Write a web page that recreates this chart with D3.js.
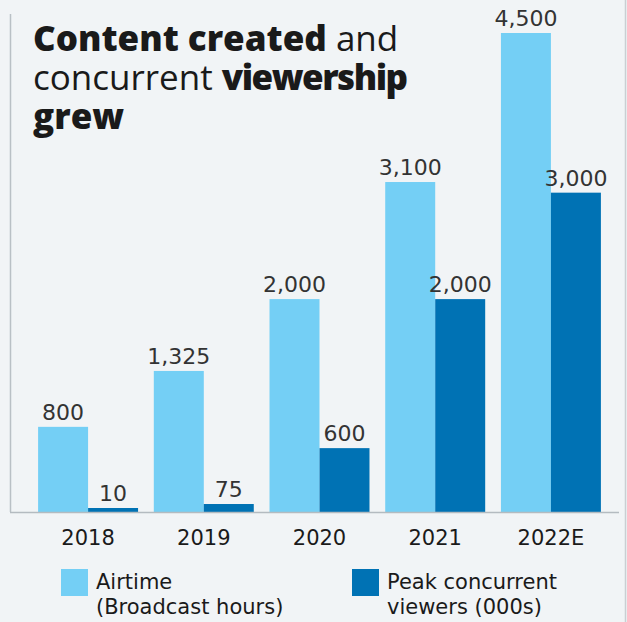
<!DOCTYPE html>
<html>
<head>
<meta charset="utf-8">
<script src="https://cdn.jsdelivr.net/npm/d3@7"></script>
<style>
  body { margin: 0; background: #f1f4f6; }
  svg { display: block; }
</style>
</head>
<body>
<div id="chart"></div>
<script>
var years = ["2018", "2019", "2020", "2021", "2022E"];
var airtime = [800, 1325, 2000, 3100, 4500];
var peakViewers = [10, 75, 600, 2000, 3000];
var seriesNames = ["Airtime (Broadcast hours)", "Peak concurrent viewers (000s)"];

var width = 627,
    height = 622,
    baseY = 512;

var colors = ["#74cff5", "#0072b4"];

var svg = d3.select("#chart").append("svg")
  .attr("width", width)
  .attr("height", height);

svg.append("rect")
  .attr("width", width)
  .attr("height", height)
  .attr("fill", "#f1f4f6");

// frame lines
svg.append("line")
  .attr("x1", 10.5).attr("x2", 10.5)
  .attr("y1", 14).attr("y2", baseY)
  .attr("stroke", "#b9c0c5").attr("stroke-width", 1.5);
svg.append("line")
  .attr("x1", 625.5).attr("x2", 625.5)
  .attr("y1", 0).attr("y2", height)
  .attr("stroke", "#c9cfd3").attr("stroke-width", 1.5);

var x = d3.scaleBand()
  .domain(years)
  .range([30, 609])
  .paddingInner(0.136)
  .paddingOuter(0.07);

var xSub = d3.scaleBand()
  .domain([0, 1])
  .range([0, x.bandwidth()]);

var y = d3.scaleLinear()
  .domain([0, 4500])
  .range([baseY, 33]);

var rows = years.map(function(yr, i) {
  return { year: yr, values: [airtime[i], peakViewers[i]] };
});

var groups = svg.selectAll("g.year")
  .data(rows)
  .enter().append("g")
  .attr("class", "year")
  .attr("transform", function(d) { return "translate(" + x(d.year) + ",0)"; });

var bars = groups.selectAll("g.bar")
  .data(function(d) { return d.values.map(function(v, k) { return { k: k, v: v }; }); })
  .enter().append("g")
  .attr("class", "bar");

bars.append("rect")
  .attr("x", function(d) { return xSub(d.k); })
  .attr("width", xSub.bandwidth())
  .attr("y", function(d) { return Math.min(y(d.v), baseY - 4); })
  .attr("height", function(d) { return Math.max(baseY - y(d.v), 4); })
  .attr("fill", function(d) { return colors[d.k]; });

bars.append("text")
  .attr("x", function(d) { return xSub(d.k) + xSub.bandwidth() / 2; })
  .attr("y", function(d) { return Math.min(y(d.v), baseY - 4) - 7; })
  .attr("text-anchor", "middle")
  .style("font-family", "DejaVu Sans, Verdana, sans-serif")
  .style("font-size", "22px")
  .style("fill", "#333333")
  .text(function(d) { return d3.format(",")(d.v); });

// baseline
svg.append("line")
  .attr("x1", 10).attr("x2", 619)
  .attr("y1", baseY + 0.5).attr("y2", baseY + 0.5)
  .attr("stroke", "#b4bbc0").attr("stroke-width", 1.5);

// year labels
svg.selectAll("text.yr")
  .data(years)
  .enter().append("text")
  .attr("class", "yr")
  .attr("x", function(d) { return x(d) + x.bandwidth() / 2; })
  .attr("y", 545)
  .attr("text-anchor", "middle")
  .style("font-family", "DejaVu Sans, Verdana, sans-serif")
  .style("font-size", "21px")
  .style("fill", "#1a1a1a")
  .text(function(d) { return d; });

// title
var title = svg.append("text")
  .style("font-family", "Open Sans, sans-serif")
  .style("font-size", "35px")
  .style("fill", "#1a1a1a");
var titleLines = [
  [["Content created", 800], [" and", 400]],
  [["concurrent ", 400], ["viewership", 800]],
  [["grew", 800]]
];
titleLines.forEach(function(line, li) {
  line.forEach(function(part, pi) {
    var t = title.append("tspan").text(part[0]).style("font-weight", part[1]);
    if (part[0] == "viewership") t.style("letter-spacing", "-1.5px");
    if (pi == 0) t.attr("x", 33).attr("y", 51 + li * 39);
  });
});

// legend
var legend = svg.selectAll("g.legend")
  .data(seriesNames)
  .enter().append("g")
  .attr("class", "legend")
  .attr("transform", function(d, i) { return "translate(" + (i == 0 ? 61 : 352) + ",569)"; });

legend.append("rect")
  .attr("width", 27).attr("height", 27)
  .attr("fill", function(d, i) { return colors[i]; });

legend.each(function(d) {
  var parts = d.indexOf("(B") > 0 ? ["Airtime", "(Broadcast hours)"] : ["Peak concurrent", "viewers (000s)"];
  var t = d3.select(this).append("text")
    .style("font-family", "DejaVu Sans, Verdana, sans-serif")
    .style("font-size", "21px")
    .style("fill", "#1a1a1a");
  parts.forEach(function(p, j) {
    t.append("tspan").attr("x", 35).attr("y", 20 + j * 25).text(p);
  });
});
</script>
</body>
</html>
